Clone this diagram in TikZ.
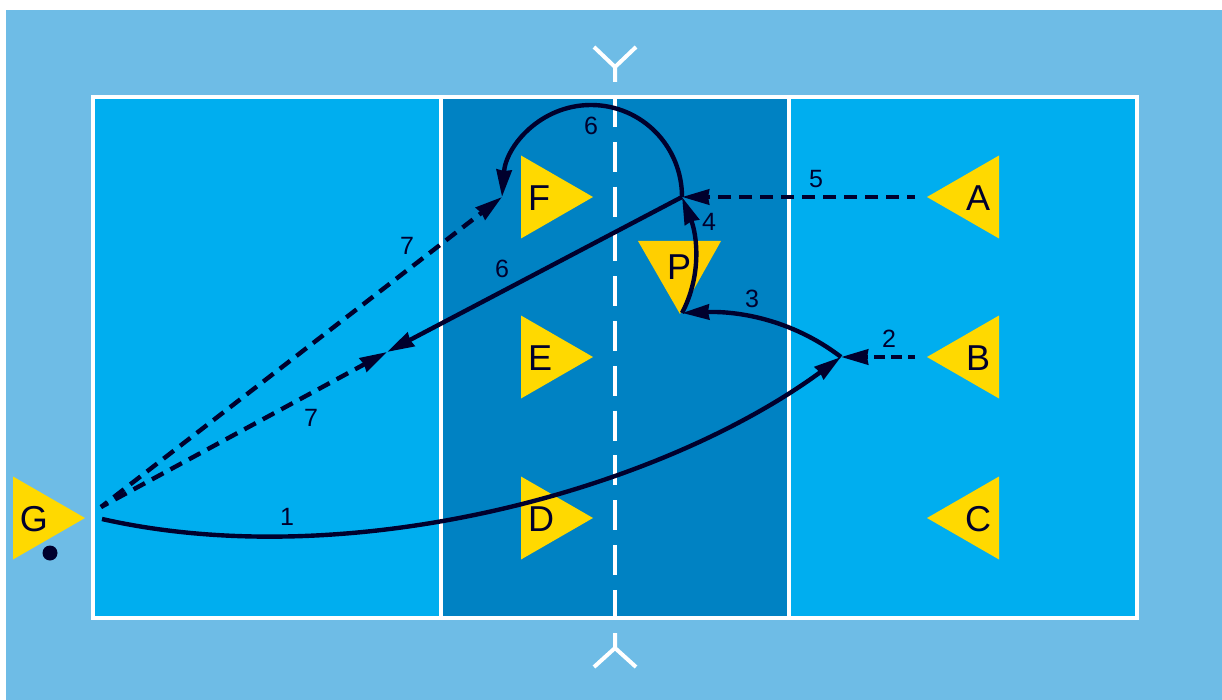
\documentclass[tikz,border=0pt]{standalone}
\usepackage{fontspec}
\setmainfont{Liberation Sans}
\usetikzlibrary{arrows.meta}
\definecolor{skybg}{HTML}{6EBCE6}
\definecolor{courtc}{HTML}{00AEEF}
\definecolor{zonec}{HTML}{0082C3}
\definecolor{goldc}{HTML}{FFD900}
\definecolor{goldp}{HTML}{FFCF00}
\definecolor{inkc}{HTML}{00002D}
\tikzset{
  courtline/.style={draw=white,line width=4pt},
  netmark/.style={draw=white,line width=4pt,line join=miter},
  centreline/.style={draw=white,line width=4pt,dash pattern=on 30pt off 14.8pt},
  move/.style={draw=inkc,line width=4.4pt,-{Stealth[length=27pt,width=15pt,inset=1pt]}},
  run/.style={move,dash pattern=on 13pt off 8pt,dash phase=5pt},
  shortrun/.style={move,dash pattern=on 11pt off 6pt,dash phase=4pt},
  playerlabel/.style={inner sep=0pt,text=inkc,font=\fontsize{36}{36}\selectfont},
  numlabel/.style={inner sep=0pt,text=inkc,font=\fontsize{25}{25}\selectfont},
}
\newcommand{\rtri}[5]{% name, base x, y, letter, label offset
  \fill[goldc] (#2,#3-41.5) -- (#2+72,#3) -- (#2,#3+41.5) -- cycle;
  \node[playerlabel] (#1) at (#2+#5,#3+1) {#4};}
\newcommand{\ltri}[4]{% name, base x, y, letter
  \fill[goldc] (#2,#3-41.5) -- (#2-72,#3) -- (#2,#3+41.5) -- cycle;
  \node[playerlabel] (#1) at (#2-21,#3+1) {#4};}
\begin{document}
\begin{tikzpicture}[x=1pt,y=-1pt]
\useasboundingbox (0,0) rectangle (1222,700);
\fill[white] (0,0) rectangle (1222,700);
\fill[skybg] (6,10) rectangle (1222,700);
\fill[courtc] (93,97) rectangle (1137,618);
\fill[zonec] (441,97) rectangle (789,618);
\draw[courtline] (93,97) rectangle (1137,618);
\draw[courtline] (441,97) -- (441,618);
\draw[courtline] (789,97) -- (789,618);
\draw[centreline] (615,97) -- (615,618);
% net marks
\draw[netmark] (615,82) -- (615,67) (594,47) -- (615,67) -- (636,47);
\draw[netmark] (615,633) -- (615,648) (594,667) -- (615,648) -- (636,667);
% players
\rtri{F}{521}{197}{F}{18}
\rtri{E}{521}{357}{E}{19}
\rtri{D}{521}{518}{D}{20}
\ltri{A}{999}{197}{A}
\ltri{B}{999}{357}{B}
\ltri{C}{999}{518}{C}
\rtri{G}{13}{518}{G}{21}
\fill[goldp] (638,241) -- (721,241) -- (680,314) -- cycle;
\node[playerlabel] (P) at (679,267) {P};
\node[circle,fill=inkc,inner sep=0pt,minimum size=15pt] (ball) at (50,553) {};
% connector ends
\coordinate (gs) at (102,519);
\coordinate (gd) at (101,507);
\coordinate (p1) at (841,357);
\coordinate (p2) at (682,313);
\coordinate (p3) at (682,197);
\coordinate (p4) at (387,352);
\coordinate (p5) at (502,197);
\coordinate (as) at (915,197);
\coordinate (bs) at (915,357);
% connectors
\draw[move] (gs) .. controls (350,575) and (660,490) .. (p1);
\draw[shortrun] (bs) -- (p1);
\draw[move] (p1) .. controls (790,318) and (735,311) .. (p2);
\draw[move] (p2) .. controls (702,275) and (697,235) .. (p3);
\draw[run] (as) -- (p3);
\draw[move] (p3) -- (p4);
\draw[move] (p3) .. controls (682,146) and (641.5,105) .. (591,105) .. controls (540.5,105) and (506,146) .. (p5);
\draw[run] (gd) -- (p4);
\draw[run] (gd) -- (p5);
% labels
\node[numlabel] (n1) at (287,517) {1};
\node[numlabel] (n2) at (889,339) {2};
\node[numlabel] (n3) at (752,299) {3};
\node[numlabel] (n4) at (709,222) {4};
\node[numlabel] (n5) at (816,179) {5};
\node[numlabel] (n6a) at (591,126) {6};
\node[numlabel] (n6b) at (502,269) {6};
\node[numlabel] (n7a) at (407,246) {7};
\node[numlabel] (n7b) at (311,418) {7};
\end{tikzpicture}
\end{document}
